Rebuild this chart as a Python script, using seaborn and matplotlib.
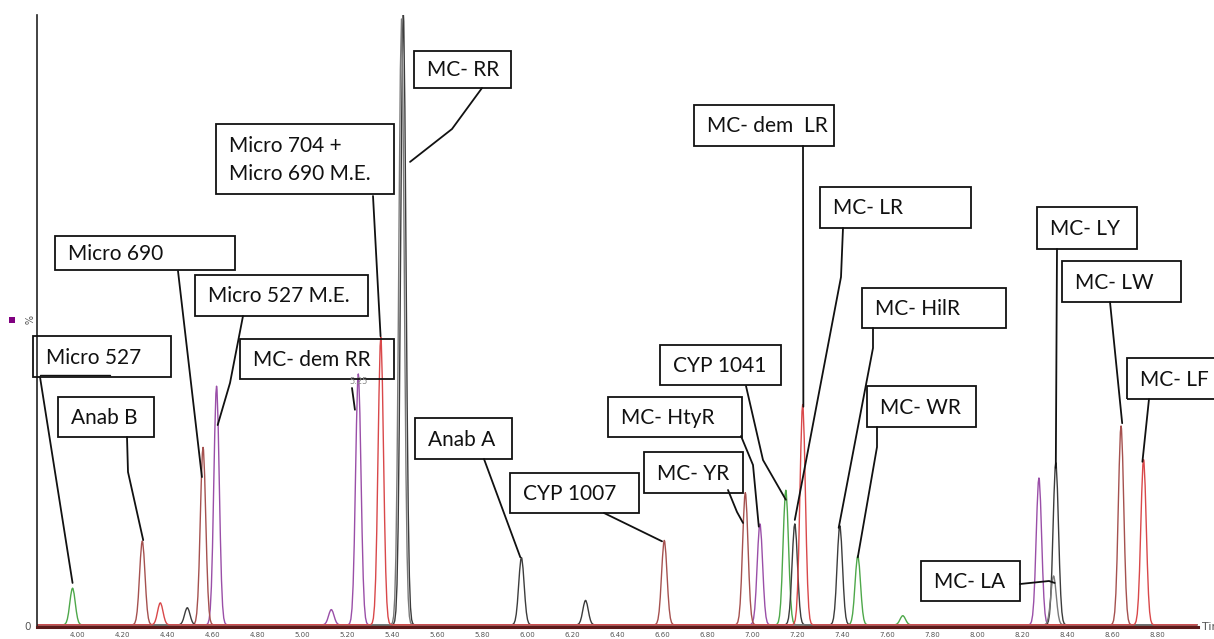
import numpy as np
import pandas as pd
import matplotlib
matplotlib.use("Agg")
import matplotlib.pyplot as plt
import seaborn as sns
from matplotlib.patches import Rectangle
from matplotlib.lines import Line2D

# ---------------- data (retention time in min, height in %) ----------------
green_rt = [3.98, 7.15, 7.47, 7.67]
green_h = [6.0, 22.0, 11.3, 1.5]
brown_rt = [4.29, 4.56, 6.61, 6.97, 8.64]
brown_h = [13.7, 29.0, 13.8, 21.6, 32.5]
red_rt = [4.37, 5.35, 7.225, 8.74]
red_h = [3.6, 47.0, 36.0, 27.0]
black_rt = [4.49, 5.45, 5.975, 6.26, 7.19, 7.39, 8.35]
black_h = [2.8, 100.0, 11.0, 4.0, 16.5, 16.2, 26.5]
gray_rt = [5.442, 8.34]
gray_h = [99.0, 8.0]
purple_rt = [4.62, 5.13, 5.25, 7.035, 8.275]
purple_h = [39.0, 2.5, 41.0, 16.5, 24.0]

xtick_vals = [4.0, 4.2, 4.4, 4.6, 4.8, 5.0, 5.2, 5.4, 5.6, 5.8, 6.0, 6.2,
              6.4, 6.6, 6.8, 7.0, 7.2, 7.4, 7.6, 7.8, 8.0, 8.2, 8.4, 8.6, 8.8]
xtick_labels = ["4.00", "4.20", "4.40", "4.60", "4.80", "5.00", "5.20", "5.40",
                "5.60", "5.80", "6.00", "6.20", "6.40", "6.60", "6.80", "7.00",
                "7.20", "7.40", "7.60", "7.80", "8.00", "8.20", "8.40", "8.60", "8.80"]

label_texts = ["Micro 527", "Anab B", "Micro 690", "Micro 527 M.E.", "MC- dem RR",
               "Micro 704 +\nMicro 690 M.E.", "MC- RR", "Anab A", "CYP 1007",
               "CYP 1041", "MC- HtyR", "MC- YR", "MC- dem  LR", "MC- LR",
               "MC- HilR", "MC- WR", "MC- LY", "MC- LW", "MC- LF", "MC- LA"]
# leader targets (time, %)
label_target_t = [3.98, 4.294, 4.555, 4.625, 5.235, 5.349, 5.48, 5.97, 6.60,
                  7.15, 7.03, 6.96, 7.228, 7.19, 7.385, 7.47, 8.35, 8.645, 8.735, 8.345]
label_target_h = [7.2, 14.2, 24.5, 33.0, 35.5, 47.5, 76.0, 11.4, 14.0,
                  20.8, 16.4, 17.0, 36.0, 17.5, 16.2, 11.4, 26.0, 33.3, 27.0, 7.2]

# ---------------- layout (figure pixels, top-left origin) ----------------
W, H = 1214, 639
boxes = [(33, 336, 171, 377), (58, 397, 154, 437), (55, 236, 235, 270),
         (195, 275, 368, 316), (240, 339, 394, 379), (216, 124, 394, 194),
         (414, 51, 511, 88), (415, 418, 512, 459), (510, 473, 639, 513),
         (660, 345, 781, 385), (608, 397, 742, 437), (644, 452, 743, 493),
         (694, 105, 834, 146), (820, 187, 971, 228), (862, 288, 1006, 328),
         (867, 386, 976, 427), (1037, 207, 1137, 249), (1062, 261, 1181, 302),
         (1127, 358, 1220, 399), (921, 561, 1020, 601)]
leader_paths = [[(40, 377)], [(127, 437), (128, 472)], [(178, 271)],
                [(243, 316), (230, 383)], [(352, 388)], [(373, 196)],
                [(482, 88), (452, 129)], [(484, 459)], [(604, 513)],
                [(746, 386), (763, 460)], [(741, 436), (753, 465)],
                [(728, 490), (737, 512)], [(803, 146)], [(843, 228), (841, 277)],
                [(873, 328), (873, 348)], [(877, 427), (877, 447)], [(1057, 249)],
                [(1110, 302)], [(1149, 399)], [(1020, 584), (1049, 581)]]

colors = {"purple": "#9a4fa8", "green": "#4ea84a", "brown": "#a5514f",
          "black": "#3c3c3c", "gray": "#7a7a7a", "red": "#d9484a"}

traces = {"purple": (purple_rt, purple_h), "green": (green_rt, green_h),
          "brown": (brown_rt, brown_h), "black": (black_rt, black_h),
          "gray": (gray_rt, gray_h), "red": (red_rt, red_h)}

sigma = 0.012
XMIN, XMAX = 3.822, 8.982
rows = []
for name, (rts, hs) in traces.items():
    grid = np.unique(np.concatenate([np.arange(XMIN, XMAX, 0.005), rts]))
    y = np.full_like(grid, 0.35)
    for rt, h in zip(rts, hs):
        y = y + h * np.exp(-0.5 * ((grid - rt) / sigma) ** 2)
    rows.append(pd.DataFrame({"t": grid, "pct": y, "trace": name}))
df = pd.concat(rows, ignore_index=True)

sns.set_style("white")
plt.rcParams["font.family"] = ["Lato", "DejaVu Sans"]

fig = plt.figure(figsize=(W / 100, H / 100), dpi=100)
ax = fig.add_axes([37 / W, 12 / H, (1198 - 37) / W, (627 - 15) / H])

sns.lineplot(data=df, x="t", y="pct", hue="trace", palette=colors,
             hue_order=list(traces.keys()), estimator=None, sort=True,
             legend=False, linewidth=1.0, ax=ax)

ax.set_xlim(XMIN, XMAX)
ax.set_ylim(0, 100)
ax.set_xlabel("")
ax.set_ylabel("")
for s in ["top", "right"]:
    ax.spines[s].set_visible(False)
ax.spines["left"].set_color("#222222")
ax.spines["left"].set_linewidth(1.2)
ax.spines["bottom"].set_color("#5a1a1a")
ax.spines["bottom"].set_linewidth(2.2)

ax.set_xticks(xtick_vals)
ax.set_xticklabels(xtick_labels, fontsize=5, color="#555555", family="DejaVu Sans")
ax.set_xticks(np.arange(3.84, 8.99, 0.02), minor=True)
ax.tick_params(axis="x", which="major", direction="out", length=3.5, width=1,
               color="#222222", pad=0)
ax.tick_params(axis="x", which="minor", direction="out", length=2.2, width=0.8,
               color="#222222")
ax.set_yticks(np.arange(0, 101, 10))
ax.set_yticklabels([])
ax.tick_params(axis="y", which="major", direction="out", length=4, width=0.8,
               color="#222222")


def fx(x):
    return x / W


def fy(y):
    return 1 - y / H


# y-axis annotations
fig.text(fx(28), fy(627), "0", fontsize=7.5, color="#555555", ha="center",
         va="center", family="DejaVu Sans")
fig.text(fx(27), fy(320), "%", fontsize=7, color="#555555", ha="center",
         va="center", rotation=270, family="DejaVu Sans")
fig.patches.append(Rectangle((fx(9), fy(323)), 6 / W, 6 / H, transform=fig.transFigure,
                             facecolor="#800080", edgecolor="none"))
fig.text(fx(1202), fy(627), "Time", fontsize=8, color="#555555", ha="left",
         va="center", family="DejaVu Sans")

# label boxes + leaders
to_fig = fig.transFigure.inverted()
for text, (x0, y0, x1, y1), path, tt, th in zip(label_texts, boxes, leader_paths,
                                               label_target_t, label_target_h):
    fig.patches.append(Rectangle((fx(x0), fy(y1)), (x1 - x0) / W, (y1 - y0) / H,
                                 transform=fig.transFigure, facecolor="none",
                                 edgecolor="#111111", linewidth=1.3))
    fig.text(fx(x0 + 13), fy((y0 + y1) / 2 + 1), text, fontsize=15,
             color="#111111", ha="left", va="center", linespacing=1.5)
    end = to_fig.transform(ax.transData.transform((tt, th)))
    xs = [fx(p[0]) for p in path] + [end[0]]
    ys = [fy(p[1]) for p in path] + [end[1]]
    fig.lines.append(Line2D(xs, ys, transform=fig.transFigure, color="#111111",
                            linewidth=1.3))

# small retention-time marker and stray box edge
fig.text(fx(359), fy(382), "5.25", fontsize=6, color="#888888", ha="center",
         va="center", family="DejaVu Sans")
fig.lines.append(Line2D([fx(40), fx(110)], [fy(375), fy(375)],
                        transform=fig.transFigure, color="#111111", linewidth=1.0))

fig.savefig("out.png", dpi=100)
